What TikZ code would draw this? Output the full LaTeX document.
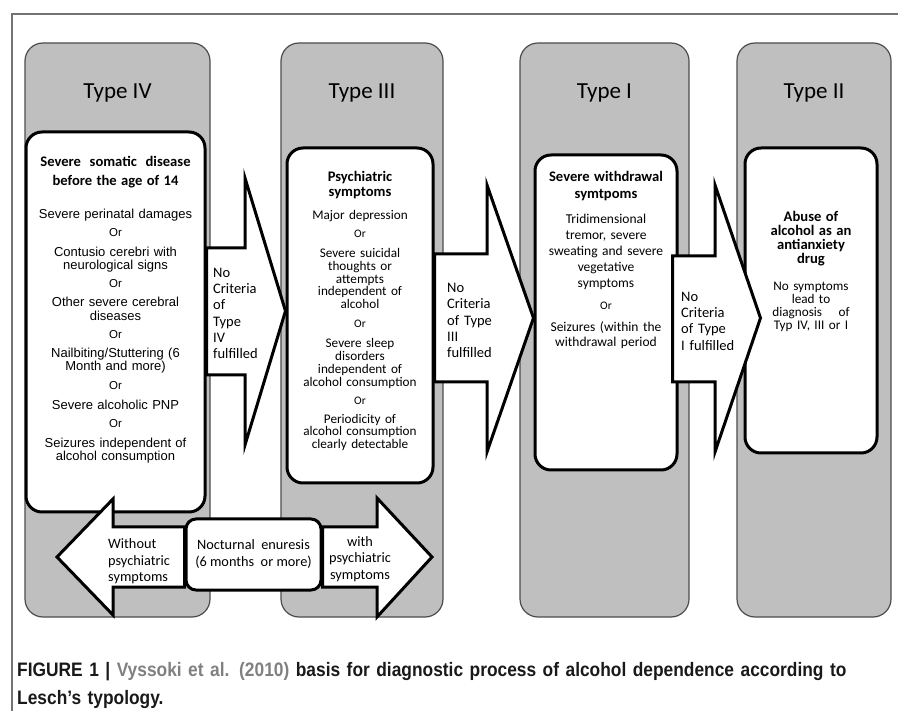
\documentclass[tikz,border=0pt]{standalone}
\usepackage{fontspec}
\setmainfont{Carlito}
\newfontfamily\arialfont{Liberation Sans}
\newfontfamily\capfont[FakeStretch=0.89]{Liberation Sans}
\usepackage{tikz}
\usetikzlibrary{calc}
\lineskiplimit=-20pt
\newcommand{\hd}[1]{{\normalfont\bfseries\fontsize{14.6}{13}\selectfont #1}}
\newcommand{\ors}{{\fontsize{11.5}{12}\selectfont Or}}

\begin{document}
\begin{tikzpicture}[x=1pt, y=-1pt,
            every node/.style={inner sep=0pt},
            column/.style={draw=black!70, line width=1.2pt, fill=black!25, rounded corners=18pt},
            critbox/.style={draw, line width=3pt, fill=white, rounded corners=16pt},
            blockarrow/.style={draw, line width=3pt, fill=white, line join=miter},
            title/.style={font=\fontsize{23}{26}\selectfont},
            boxtext/.style={anchor=north, align=center},
            critlabel/.style={anchor=west, align=left, text width=60pt, font=\fontsize{14.5}{16.3}\selectfont},
            sidelabel/.style={text width=72pt, font=\fontsize{14.3}{16.5}\selectfont}]
            \useasboundingbox (0,0) rectangle (898,711);

            % grey columns
            \node[column, minimum width=185pt, minimum height=574pt] (colIV) at (117.5,330) {};
            \node[column, minimum width=162pt, minimum height=574pt] (colIII) at (362,330) {};
            \node[column, minimum width=169pt, minimum height=574pt] (colI) at (604.5,330) {};
            \node[column, minimum width=154pt, minimum height=574pt] (colII) at (814,330) {};

            \node[title] (tIV) at (colIV.center |- 0,93) {Type IV};
            \node[title] (tIII) at (colIII.center |- 0,93) {Type III};
            \node[title] (tI) at (colI.center |- 0,93) {Type I};
            \node[title] (tII) at (colII.center |- 0,93) {Type II};

            % criteria boxes
            \node[critbox, minimum width=179pt, minimum height=380pt] (bIV) at (115.5,322) {};
            \node[critbox, minimum width=146pt, minimum height=335pt] (bIII) at (360,315.5) {};
            \node[critbox, minimum width=142pt, minimum height=315pt] (bI) at (606,312.5) {};
            \node[critbox, minimum width=132pt, minimum height=305pt] (bII) at (811,300.5) {};

            % Type IV
            \node[boxtext, text width=176pt, font=\arialfont\fontsize{13}{13.5}\selectfont] (txIV) at (bIV.north |- 0,156) {
                \hd{Severe~ somatic~ disease}\\[5.5pt]
                \hd{before the age of 14}\\[19.5pt]
                Severe perinatal damages\\[4.5pt]
                \ors\\[6.5pt]
                Contusio cerebri with\\
                neurological signs\\[4.5pt]
                \ors\\[5.5pt]
                Other severe cerebral\\
                diseases\\[4.5pt]
                \ors\\[5.5pt]
                Nailbiting/Stuttering (6\\
                Month and more)\\[5pt]
                \ors\\[6.5pt]
                Severe alcoholic PNP\\[4.5pt]
                \ors\\[6.5pt]
                Seizures independent of\\
                alcohol consumption
            };

            % Type III
            \node[boxtext, text width=144pt, font=\fontsize{13.2}{12.8}\selectfont] (txIII) at (bIII.north |- 0,171) {
                \hd{Psychiatric}\\[2.2pt]
                \hd{symptoms}\\[10.2pt]
                Major depression\\[5.2pt]
                \ors\\[7.2pt]
                Severe suicidal\\
                thoughts or\\
                attempts\\
                independent of\\
                alcohol\\[6.2pt]
                \ors\\[7.2pt]
                Severe sleep\\
                disorders\\
                independent of\\
                alcohol consumption\\[5.2pt]
                \ors\\[6.2pt]
                Periodicity of\\
                alcohol consumption\\
                clearly detectable
            };

            % Type I
            \node[boxtext, text width=140pt, font=\fontsize{13.5}{16}\selectfont] (txI) at (bI.north |- 0,171.5) {
                \hd{Severe withdrawal}\\[1pt]
                \hd{symtpoms}\\[9pt]
                Tridimensional\\
                tremor, severe\\
                sweating and severe\\
                vegetative\\
                symptoms\\[6pt]
                \ors\\[6pt]
                Seizures (within the\\[-1pt]
                withdrawal period
            };

            % Type II
            \node[boxtext, text width=130pt, font=\fontsize{13.2}{13}\selectfont] (txII) at (bII.north |- 0,211) {
                \hd{Abuse of}\\[1pt]
                \hd{alcohol as an}\\[1pt]
                \hd{antianxiety}\\[1pt]
                \hd{drug}\\[14pt]
                No symptoms\\
                lead to\\
                diagnosis\hspace{12pt} of\\
                Typ IV, III or I
            };

            % arrows between the types
            \draw[blockarrow] (bIV.east |- 0,248) -- (245,248) -- (245,178) -- (bIII.west |- 0,311)
                -- (245,445) -- (245,375) -- (bIV.east |- 0,375) -- cycle;
            \draw[blockarrow] (bIII.east |- 0,254) -- (487,254) -- (487,185) -- (bI.west |- 0,318)
                -- (487,452) -- (487,382) -- (bIII.east |- 0,382) -- cycle;
            \draw[blockarrow] ($(bI.east |- 0,256)+(-6,0)$) -- (715,256) -- (715,185) -- ($(bII.west |- 0,318)+(17,0)$)
                -- (715,452) -- (715,382) -- ($(bI.east |- 0,382)+(-6,0)$) -- cycle;

            \node[critlabel] (nIV) at (213,313.5) {No\\Criteria\\of\\Type\\IV\\fulfilled};
            \node[critlabel] (nIII) at (447,320.5) {No\\Criteria\\of Type\\III\\fulfilled};
            \node[critlabel] (nI) at (681,321) {No\\Criteria\\of Type\\I fulfilled};

            % enuresis
            \node[critbox, minimum width=135pt, minimum height=71pt, rounded corners=10pt, align=center,
                font=\fontsize{14.3}{17}\selectfont] (noct) at (253.5,554.5) {Nocturnal~ enuresis\\(6 months~ or more)};

            \draw[blockarrow] (noct.west |- 0,527) -- (113,527) -- (113,499) -- (57,557)
                -- (113,615) -- (113,587) -- (noct.west |- 0,587) -- cycle;
            \draw[blockarrow] (noct.east |- 0,527) -- (377,527) -- (377,498) -- (432,557)
                -- (377,617) -- (377,587) -- (noct.east |- 0,587) -- cycle;

            \node[sidelabel, anchor=west, align=left] (wo) at (108,561.5) {Without\\psychiatric\\symptoms};
            \node[sidelabel, align=center] (wi) at (360,559) {with\\psychiatric\\symptoms};

            % caption and frame
            \node[anchor=west, align=left, text width=875pt, text=black!90,
                font=\capfont\bfseries\fontsize{19.5}{28}\selectfont] (cap) at (17,686)
                {FIGURE 1 | \textcolor{black!50}{Vyssoki et al. (2010)} basis for diagnostic process of alcohol dependence according to\\
                 Lesch’s typology.};
            \draw[black!55, line width=1.5pt] (12,711) -- (12,14) -- (898,14);
        \end{tikzpicture}
\end{document}
